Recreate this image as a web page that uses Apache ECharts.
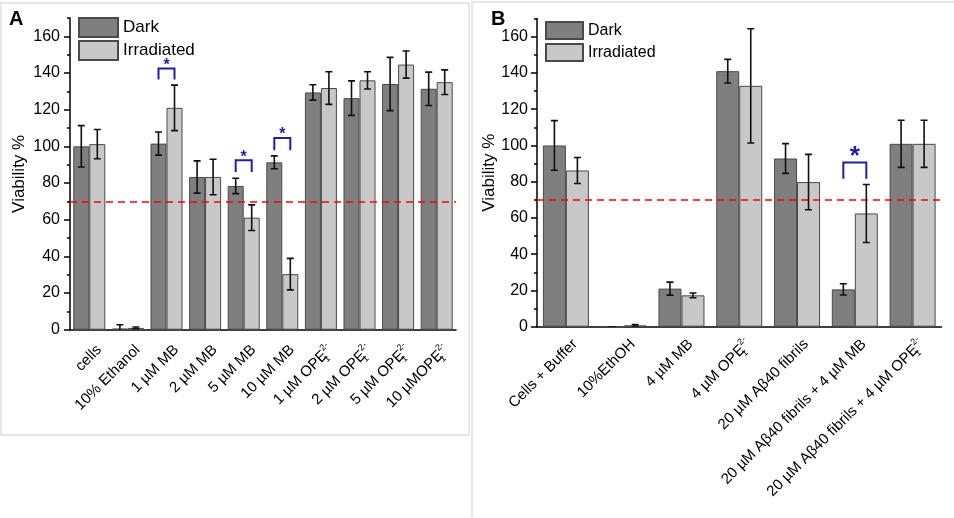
<!DOCTYPE html>
<html><head><meta charset="utf-8">
<script src="https://cdn.jsdelivr.net/npm/echarts@6/dist/echarts.min.js"></script>
<style>html,body{margin:0;padding:0;background:#fff}#c{width:954px;height:518px}</style>
</head><body><div id="c"></div>
<script>
// ---------- data ----------
const yTicks = [0, 20, 40, 60, 80, 100, 120, 140, 160];
const threshold = 70;
const seriesNames = ['Dark', 'Irradiated'];

const categoriesA = ['cells', '10% Ethanol', '1 µM MB', '2 µM MB', '5 µM MB', '10 µM MB', '1 µM OPE', '2 µM OPE', '5 µM OPE', '10 µMOPE'];
const darkA    = [100, 0.6, 101.5, 83.3, 78.4, 91.3, 129.4, 126.3, 134.0, 131.4];
const darkErrA = [11.3, 2.1, 6.3, 8.8, 4.2, 3.5, 4.2, 9.4, 14.5, 9.1];
const irrA     = [101.2, 1.0, 121.0, 83.3, 61.1, 30.3, 131.8, 136.0, 144.6, 135.0];
const irrErrA  = [8.0, 0.5, 12.4, 9.7, 7.0, 8.6, 8.9, 4.7, 7.4, 6.7];
const sigCatA  = [2, 4, 5];
const sigTopA  = [142.5, 92.4, 104.6];
const sigLegA  = [136.4, 86.0, 97.9];

const categoriesB = ['Cells + Buffer', '10%EthOH', '4 µM MB', '4 µM OPE', '20 µM Aβ40 fibrils', '20 µM Aβ40 fibrils + 4 µM MB', '20 µM Aβ40 fibrils + 4 µM OPE'];
const darkB    = [100, 0, 21.0, 141.0, 92.8, 20.6, 100.9];
const darkErrB = [13.7, 0, 3.6, 6.5, 8.2, 3.1, 13.0];
const irrB     = [86.2, 0.7, 17.3, 132.9, 79.8, 62.5, 100.9];
const irrErrB  = [7.2, 0.5, 1.3, 31.5, 15.3, 16.0, 13.0];
const sigCatB  = [5];
const sigTopB  = [90.6];
const sigLegB  = [81.6];

// ---------- styling / helpers ----------
const FONT = 'Liberation Sans, Arial, Helvetica, sans-serif';
const BLUE = '#1e1ea8';
const DARK = '#7f7f7f', LIGHT = '#c8c8c8', EDGE = '#4a4a4a';

function fmtLabel(v) {
  return v.endsWith('OPE') ? '{t|' + v + '}{sub|1}{sup|2-}' : '{t|' + v + '}';
}
const richLab = {
  t: { fontSize: 15, fontFamily: FONT, color: '#000', lineHeight: 20 },
  sub: { fontSize: 9, fontFamily: FONT, color: '#000', verticalAlign: 'bottom', width: 0, lineHeight: 20 },
  sup: { fontSize: 9, fontFamily: FONT, color: '#000', verticalAlign: 'top', lineHeight: 20 }
};

function errData(vals, errs, side) {
  return vals.map((v, i) => [i, v - errs[i], v + errs[i], side]);
}
function errRender(half, cap) {
  return function (params, api) {
    const i = api.value(0);
    const cx = api.coord([i, 0])[0] + api.value(3) * half;
    const yLo = api.coord([i, api.value(1)])[1];
    const yHi = api.coord([i, api.value(2)])[1];
    const st = { stroke: '#111', lineWidth: 1.6 };
    return { type: 'group', children: [
      { type: 'line', shape: { x1: cx, y1: yLo, x2: cx, y2: yHi }, style: st },
      { type: 'line', shape: { x1: cx - cap, y1: yHi, x2: cx + cap, y2: yHi }, style: st },
      { type: 'line', shape: { x1: cx - cap, y1: yLo, x2: cx + cap, y2: yLo }, style: st }
    ]};
  };
}
function sigRender(half, font, gap) {
  return function (params, api) {
    const i = api.value(0);
    const c = api.coord([i, api.value(1)]);
    const yl = api.coord([i, api.value(2)])[1];
    return { type: 'group', children: [
      { type: 'polyline', shape: { points: [[c[0] - half, yl], [c[0] - half, c[1]], [c[0] + half, c[1]], [c[0] + half, yl]] },
        style: { stroke: BLUE, lineWidth: 2, fill: null } },
      { type: 'text', x: c[0], y: c[1] - gap,
        style: { text: '*', fill: BLUE, font: font, align: 'center', verticalAlign: 'middle' } }
    ]};
  };
}

function yAxesFor(grid, nameGap, labMargin) {
  return [
    { type: 'value', gridIndex: grid, position: 'left', min: 0, max: 170, interval: 20,
      name: 'Viability %', nameLocation: 'middle', nameGap: nameGap,
      nameTextStyle: { fontSize: 17, fontFamily: FONT, color: '#000' },
      axisLine: { show: true, lineStyle: { color: '#000', width: 1.5 } },
      axisTick: { show: true, length: 6, customValues: yTicks, lineStyle: { color: '#000', width: 1.5 } },
      axisLabel: { customValues: yTicks, fontSize: 16, fontFamily: FONT, color: '#000', margin: labMargin },
      splitLine: { show: false } },
    { type: 'value', gridIndex: grid, position: 'left', offset: 0, min: 0, max: 170, interval: 10,
      axisLine: { show: false }, axisLabel: { show: false }, splitLine: { show: false },
      axisTick: { show: true, length: 3, lineStyle: { color: '#000', width: 1.5 } } }
  ];
}

const markLine70 = {
  silent: true, symbol: 'none', label: { show: false },
  lineStyle: { color: '#ff0000', type: [7, 5], width: 1.5 },
  data: [{ yAxis: threshold }]
};

const option = {
  animation: false,
  backgroundColor: '#fff',
  textStyle: { fontFamily: FONT },
  graphic: [
    { type: 'rect', silent: true, z: -10, shape: { x: 1, y: 3, width: 468, height: 432 },
      style: { fill: 'none', stroke: '#dedede', lineWidth: 1.5 } },
    { type: 'rect', silent: true, z: -10, shape: { x: 472, y: 2, width: 500, height: 540 },
      style: { fill: 'none', stroke: '#dedede', lineWidth: 1.5 } },
    { type: 'text', x: 9, y: 9, style: { text: 'A', font: 'bold 20px ' + FONT, fill: '#000', verticalAlign: 'top' } },
    { type: 'text', x: 491, y: 9, style: { text: 'B', font: 'bold 20px ' + FONT, fill: '#000', verticalAlign: 'top' } }
  ],
  legend: [
    { orient: 'vertical', left: 78, top: 17, padding: 0, itemWidth: 39, itemHeight: 19, itemGap: 2, icon: 'rect',
      textStyle: { fontSize: 17, fontFamily: FONT, color: '#000' }, data: seriesNames, selectedMode: false },
    { orient: 'vertical', left: 545, top: 21, padding: 0, itemWidth: 37, itemHeight: 17, itemGap: 3, icon: 'rect',
      textStyle: { fontSize: 16, fontFamily: FONT, color: '#000' }, data: seriesNames, selectedMode: false }
  ],
  grid: [
    { left: 70, top: 18, width: 386, height: 311.7 },
    { left: 537, top: 18.6, width: 404.5, height: 308.1 }
  ],
  xAxis: [
    { type: 'category', gridIndex: 0, data: categoriesA,
      axisLine: { lineStyle: { color: '#000', width: 1.5 } },
      axisTick: { alignWithLabel: true, interval: 0, length: 6, lineStyle: { color: '#000', width: 1.5 } },
      axisLabel: { interval: 0, rotate: 45, margin: 8, verticalAlign: 'top', padding: [4, 0, 0, 0],
        formatter: fmtLabel, rich: richLab, fontSize: 15, color: '#000' } },
    { type: 'category', gridIndex: 0, data: categoriesA, position: 'bottom',
      axisLine: { show: false }, axisLabel: { show: false },
      axisTick: { alignWithLabel: false, interval: 0, length: 4, lineStyle: { color: '#000', width: 1.5 } } },
    { type: 'category', gridIndex: 1, data: categoriesB,
      axisLine: { lineStyle: { color: '#000', width: 1.5 } },
      axisTick: { alignWithLabel: true, interval: 0, length: 6, lineStyle: { color: '#000', width: 1.5 } },
      axisLabel: { interval: 0, rotate: 45, margin: 6, verticalAlign: 'top', padding: [3, 0, 0, 0],
        formatter: fmtLabel, rich: richLab, fontSize: 15, color: '#000' } }
  ],
  yAxis: yAxesFor(0, 42, 10).concat(yAxesFor(1, 37, 9)),
  series: [
    { type: 'bar', name: 'Dark', xAxisIndex: 0, yAxisIndex: 0, data: darkA, barWidth: 16, barGap: '0%',
      itemStyle: { color: DARK, borderColor: EDGE, borderWidth: 1 }, markLine: markLine70 },
    { type: 'bar', name: 'Irradiated', xAxisIndex: 0, yAxisIndex: 0, data: irrA, barWidth: 16, barGap: '0%',
      itemStyle: { color: LIGHT, borderColor: EDGE, borderWidth: 1 } },
    { type: 'custom', xAxisIndex: 0, yAxisIndex: 0, z: 5, clip: true,
      renderItem: errRender(8, 3.5), encode: { x: 0, y: [1, 2] },
      data: errData(darkA, darkErrA, -1).concat(errData(irrA, irrErrA, 1)) },
    { type: 'custom', xAxisIndex: 0, yAxisIndex: 0, z: 6,
      renderItem: sigRender(8, 'bold 16px ' + FONT, 3), encode: { x: 0, y: [1, 2] },
      data: sigCatA.map((c, k) => [c, sigTopA[k], sigLegA[k]]) },

    { type: 'bar', name: 'Dark', xAxisIndex: 2, yAxisIndex: 2, data: darkB, barWidth: 23, barGap: '0%',
      itemStyle: { color: DARK, borderColor: EDGE, borderWidth: 1 }, markLine: markLine70 },
    { type: 'bar', name: 'Irradiated', xAxisIndex: 2, yAxisIndex: 2, data: irrB, barWidth: 23, barGap: '0%',
      itemStyle: { color: LIGHT, borderColor: EDGE, borderWidth: 1 } },
    { type: 'custom', xAxisIndex: 2, yAxisIndex: 2, z: 5, clip: true,
      renderItem: errRender(11.5, 3.5), encode: { x: 0, y: [1, 2] },
      data: errData(darkB, darkErrB, -1).concat(errData(irrB, irrErrB, 1)) },
    { type: 'custom', xAxisIndex: 2, yAxisIndex: 2, z: 6,
      renderItem: sigRender(11.5, 'bold 26px ' + FONT, 6), encode: { x: 0, y: [1, 2] },
      data: sigCatB.map((c, k) => [c, sigTopB[k], sigLegB[k]]) }
  ]
};

const chart = echarts.init(document.getElementById('c'), null, { renderer: 'canvas' });
chart.setOption(option);
</script>
</body></html>
